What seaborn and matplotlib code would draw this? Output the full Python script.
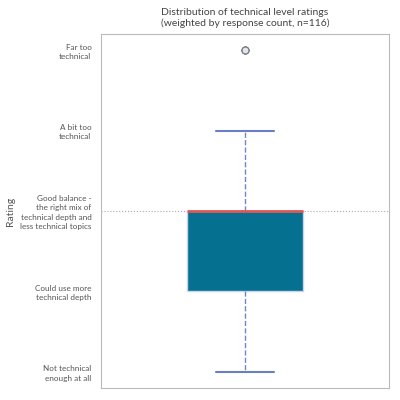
import numpy as np
import pandas as pd
import seaborn as sns
import matplotlib.pyplot as plt

# Ratings scale and how many responses picked each level
rating_values = [1, 2, 3, 4, 5]
rating_labels = [
    "Not technical\nenough at all",
    "Could use more\ntechnical depth",
    "Good balance -\nthe right mix of\ntechnical depth and\nless technical topics",
    "A bit too\ntechnical",
    "Far too\ntechnical",
]
response_counts = [8, 35, 55, 15, 3]

# Expand to one row per response (weighted)
ratings = np.repeat(rating_values, response_counts)
df = pd.DataFrame({"Rating": ratings})

sns.set_style("white")
plt.rcParams["font.family"] = ["Lato", "DejaVu Sans"]

fig, ax = plt.subplots(figsize=(4, 4), dpi=100)

sns.boxplot(
    data=df, y="Rating", ax=ax, width=0.4, color="#05708F",
    boxprops=dict(facecolor="#05708F", edgecolor="#c9d2f2", linewidth=1),
    whiskerprops=dict(color="#7484c4", linestyle="--", linewidth=1),
    capprops=dict(color="#6a7fc0", linewidth=1.5),
    medianprops=dict(color="#e05555", linewidth=2),
    flierprops=dict(marker="o", markerfacecolor="#dfe6f2",
                    markeredgecolor="#777777", markersize=5, markeredgewidth=0.8),
)

ax.axhline(3, color="#aaaaaa", linestyle=":", linewidth=0.8, zorder=0)

ax.set_ylim(0.8, 5.2)
ax.set_yticks(rating_values)
ax.set_yticklabels(rating_labels, fontsize=5.9, color="#555555", linespacing=1.35)
ax.set_xticks([])
ax.set_xlabel("")
ax.set_ylabel("Rating", fontsize=7.5, color="#555555")
ax.yaxis.set_label_coords(-0.30, 0.5)
ax.tick_params(axis="y", length=3, color="#999999", labelcolor="#555555", pad=4)
for s in ax.spines.values():
    s.set_color("#bbbbbb")
    s.set_linewidth(0.8)

ax.set_title("Distribution of technical level ratings\n(weighted by response count, n=116)",
             fontsize=7.5, color="#444444")

fig.subplots_adjust(left=0.253, right=0.972, top=0.915, bottom=0.03)
fig.savefig("out.png", dpi=100)
